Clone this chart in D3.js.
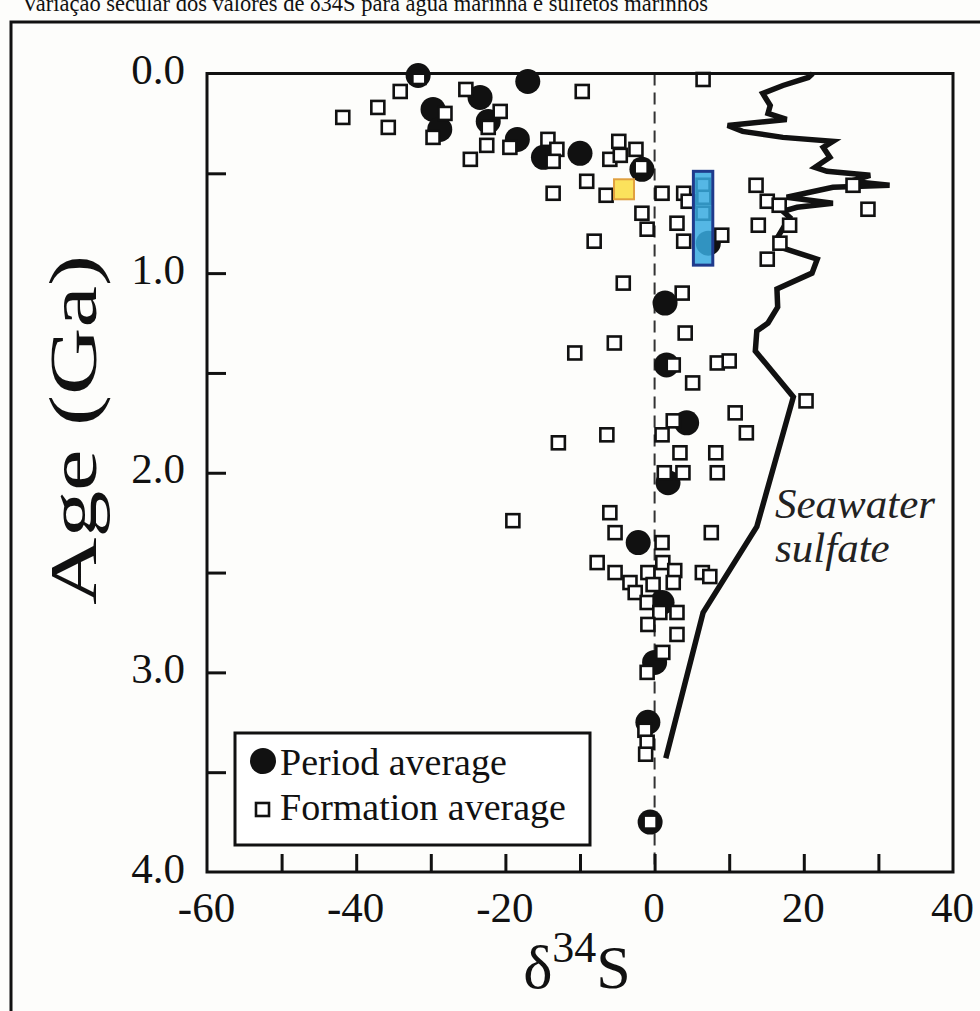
<!DOCTYPE html>
<html>
<head>
<meta charset="utf-8">
<script src="https://cdn.jsdelivr.net/npm/d3@7"></script>
<style>
body{margin:0;background:#fdfdfb;}
svg{display:block;font-family:"Liberation Serif","Times New Roman",serif;}
</style>
</head>
<body>
<div id="chart"></div>
<script>
// delta34S (permil) vs age (Ga)
const periodAverage = [
    [-31.7,0.01],[-17.0,0.04],[-23.4,0.12],[-29.7,0.18],[-22.3,0.24],[-28.8,0.28],
    [-18.4,0.33],[-10.0,0.40],[-14.9,0.42],[-1.7,0.48],[7.2,0.85],[1.4,1.15],
    [1.6,1.46],[4.3,1.75],[1.8,2.05],[-2.2,2.35],[1.0,2.65],[0.0,2.95],[-0.9,3.25],[-0.6,3.75]
];
const formationAverage = [
    [-31.6,0.02],[-34.1,0.09],[-37.1,0.17],[-41.8,0.22],[-35.7,0.27],[-28.1,0.20],[-29.7,0.32],
    [-25.3,0.08],[-20.7,0.19],[-22.3,0.27],[-22.5,0.36],[-24.7,0.43],[-19.4,0.37],[-14.3,0.33],
    [-13.1,0.38],[-13.6,0.44],[-9.1,0.54],[-13.6,0.60],[-9.7,0.09],[-6.5,0.61],[-4.8,0.34],
    [-6.0,0.43],[-4.6,0.41],[-2.5,0.38],[-1.8,0.47],[-1.7,0.70],[-1.0,0.78],[-8.1,0.84],
    [-4.2,1.05],[6.5,0.03],[1.0,0.60],[3.9,0.60],[4.5,0.64],[3.0,0.75],[3.9,0.84],[9.0,0.81],
    [6.5,0.56],[6.6,0.62],[6.5,0.70],[13.6,0.56],[15.1,0.64],[16.7,0.66],[13.9,0.76],[18.1,0.76],
    [16.8,0.85],[15.1,0.93],[26.6,0.56],[28.6,0.68],[3.7,1.10],[4.1,1.30],[-5.4,1.35],[-10.7,1.40],
    [2.5,1.46],[8.4,1.45],[10.0,1.44],[5.1,1.55],[10.8,1.70],[12.3,1.80],[2.5,1.74],[1.0,1.81],
    [-6.4,1.81],[-12.9,1.85],[3.4,1.90],[8.2,1.90],[8.4,2.00],[3.8,2.00],[1.3,2.00],[20.3,1.64],
    [-6.0,2.20],[-5.3,2.30],[7.6,2.30],[1.0,2.35],[-19.0,2.24],[-7.7,2.45],[-5.3,2.50],[-3.3,2.55],
    [-2.6,2.60],[-0.9,2.50],[1.1,2.45],[2.7,2.49],[2.5,2.55],[-0.2,2.56],[-1.0,2.65],[0.7,2.70],
    [3.0,2.70],[-0.9,2.76],[3.0,2.81],[1.1,2.90],[-1.0,3.00],[6.4,2.50],[7.4,2.52],[-1.3,3.29],
    [-1.0,3.35],[-1.2,3.41],[-0.6,3.75]
];
const seawaterSulfate = [
    [21.2,0.00],[20.6,0.02],[17.2,0.06],[14.5,0.10],[15.5,0.16],[15.2,0.20],[17.7,0.23],
    [9.8,0.26],[11.8,0.29],[17.2,0.32],[23.9,0.34],[22.6,0.37],[23.5,0.42],[21.5,0.47],
    [23.1,0.49],[28.9,0.51],[26.2,0.54],[31.5,0.56],[23.9,0.57],[17.7,0.62],[23.9,0.65],
    [19.1,0.67],[17.2,0.69],[18.1,0.72],[16.5,0.82],[16.8,0.87],[21.8,0.93],[21.1,1.00],
    [16.4,1.08],[16.5,1.17],[15.2,1.25],[13.7,1.29],[13.5,1.39],[18.6,1.62],[13.7,2.27],
    [6.5,2.70],[1.5,3.43]
];
const highlightBox = [5.2, 7.8, 0.49, 0.96]; // d34S from, to, age from, to
const highlightPoint = [-4.1, 0.58];
const xTickValues = [-50,-40,-30,-20,-10,0,10,20,30];
const xLabelValues = [-60,-40,-20,0,20,40];
const yTickValues = [0.5,1.0,1.5,2.0,2.5,3.0,3.5];
const yLabelValues = [0,1,2,3,4];
const legendItems = ["Period average","Formation average"];

const width = 980, height = 1011;
const x = d3.scaleLinear().domain([-60,40]).range([207,953]);
const y = d3.scaleLinear().domain([0,4]).range([73.5,872]);

const svg = d3.select('#chart').append('svg')
    .attr('width', width)
    .attr('height', height);

svg.append('rect').attr('width', width).attr('height', height).attr('fill', '#fdfdfb');

// title (the scan cuts its top off)
svg.append('text')
    .attr('x', 22).attr('y', 11)
    .attr('font-size', 22.5)
    .attr('fill', '#111')
    .text('Variação secular dos valores de δ34S para água marinha e sulfetos marinhos');

// outer frame
svg.append('rect')
    .attr('x', 11).attr('y', 22)
    .attr('width', 1000).attr('height', 1100)
    .attr('fill', 'none')
    .attr('stroke', '#111')
    .attr('stroke-width', 3);

// zero line
svg.append('line')
    .attr('x1', x(0)).attr('x2', x(0))
    .attr('y1', y(0)).attr('y2', y(4))
    .attr('stroke', '#333')
    .attr('stroke-width', 2)
    .attr('stroke-dasharray', '12,7');

// seawater sulfate curve
const line = d3.line().x(d => x(d[0])).y(d => y(d[1]));
svg.append('path')
    .datum(seawaterSulfate)
    .attr('d', line)
    .attr('fill', 'none')
    .attr('stroke', '#111')
    .attr('stroke-width', 5.5)
    .attr('stroke-linejoin', 'miter');

svg.append('g')
    .selectAll('circle')
    .data(periodAverage)
    .join('circle')
    .attr('cx', d => x(d[0]))
    .attr('cy', d => y(d[1]))
    .attr('r', 12.5)
    .attr('fill', '#111');

const sq = 13;
svg.append('g')
    .selectAll('rect')
    .data(formationAverage)
    .join('rect')
    .attr('x', d => x(d[0]) - sq / 2)
    .attr('y', d => y(d[1]) - sq / 2)
    .attr('width', sq).attr('height', sq)
    .attr('fill', '#fff')
    .attr('stroke', '#111')
    .attr('stroke-width', 2.6);

// highlighted box and point
svg.append('rect')
    .attr('x', x(highlightBox[0]))
    .attr('y', y(highlightBox[2]))
    .attr('width', x(highlightBox[1]) - x(highlightBox[0]))
    .attr('height', y(highlightBox[3]) - y(highlightBox[2]))
    .attr('fill', 'rgba(55,170,225,0.85)')
    .attr('stroke', '#1f3a8c')
    .attr('stroke-width', 3);

svg.append('rect')
    .attr('x', x(highlightPoint[0]) - 10)
    .attr('y', y(highlightPoint[1]) - 10)
    .attr('width', 20).attr('height', 20)
    .attr('fill', '#fbe25c')
    .attr('stroke', '#e0a040')
    .attr('stroke-width', 2);

// ticks (inward)
const xTicks = svg.append('g')
    .attr('transform', `translate(0,${y(4)})`)
    .call(d3.axisBottom(x).tickValues(xTickValues).tickSize(-18).tickFormat(''));
const yTicks = svg.append('g')
    .attr('transform', `translate(${x(-60)},0)`)
    .call(d3.axisLeft(y).tickValues(yTickValues).tickSize(-19).tickFormat(''));
[xTicks, yTicks].forEach(g => {
    g.select('.domain').remove();
    g.selectAll('line').attr('stroke', '#111').attr('stroke-width', 3);
});

// tick labels
const xLabels = svg.append('g')
    .attr('transform', `translate(-1,${y(4)})`)
    .call(d3.axisBottom(x).tickValues(xLabelValues).tickSize(0).tickPadding(0).tickFormat(d => String(d)));
xLabels.selectAll('text').attr('dy', null).attr('y', 50);
const yLabels = svg.append('g')
    .attr('transform', `translate(185,0)`)
    .call(d3.axisLeft(y).tickValues(yLabelValues).tickSize(0).tickPadding(0).tickFormat(d => d.toFixed(1)));
yLabels.selectAll('text').attr('dy', null).attr('y', 10);
[xLabels, yLabels].forEach(g => {
    g.select('.domain').remove();
    g.selectAll('text')
        .attr('font-family', '"Liberation Serif", serif')
        .attr('font-size', 43)
        .attr('fill', '#111');
});

// plot frame
svg.append('rect')
    .attr('x', x(-60)).attr('y', y(0))
    .attr('width', x(40) - x(-60)).attr('height', y(4) - y(0))
    .attr('fill', 'none')
    .attr('stroke', '#111')
    .attr('stroke-width', 3);

// axis titles
svg.append('text')
    .attr('transform', 'translate(96,430) rotate(-90)')
    .attr('text-anchor', 'middle')
    .attr('font-size', 68)
    .attr('textLength', 350)
    .attr('lengthAdjust', 'spacingAndGlyphs')
    .attr('fill', '#111')
    .text('Age (Ga)');

const xt = svg.append('text')
    .attr('x', 577).attr('y', 988)
    .attr('text-anchor', 'middle')
    .attr('font-size', 62)
    .attr('fill', '#111');
xt.append('tspan').text('δ');
xt.append('tspan').attr('font-size', 44).attr('dy', -26).text('34');
xt.append('tspan').attr('dy', 26).text('S');

// curve label
const lab = svg.append('text')
    .attr('font-style', 'italic')
    .attr('font-size', 43)
    .attr('fill', '#222');
lab.append('tspan').attr('x', 775).attr('y', 518).text('Seawater');
lab.append('tspan').attr('x', 775).attr('y', 562).text('sulfate');

// legend
const legend = svg.append('g');
legend.append('rect')
    .attr('x', 235).attr('y', 733)
    .attr('width', 355).attr('height', 112)
    .attr('fill', '#fff')
    .attr('stroke', '#111')
    .attr('stroke-width', 3);
legend.append('circle').attr('cx', 263).attr('cy', 761).attr('r', 13).attr('fill', '#111');
legend.append('rect').attr('x', 256).attr('y', 803).attr('width', 13).attr('height', 13)
    .attr('fill', '#fff').attr('stroke', '#111').attr('stroke-width', 2.6);
legend.selectAll('text.item')
    .data(legendItems)
    .join('text')
    .attr('class', 'item')
    .attr('x', 280)
    .attr('y', (d, i) => 775 + i * 45)
    .attr('font-size', 38)
    .attr('fill', '#111')
    .text(d => d);
</script>
</body>
</html>
